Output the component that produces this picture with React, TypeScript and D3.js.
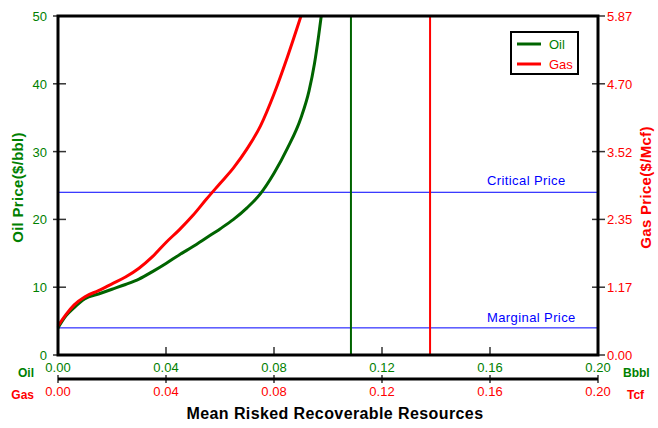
import React, { useEffect, useRef } from 'react';
import * as d3 from 'd3';

// resource (Bbbl / Tcf) vs price curves
const oilX = [0, 0.003, 0.006, 0.01, 0.015, 0.02, 0.025, 0.03, 0.035, 0.04, 0.045, 0.05, 0.055, 0.06, 0.065, 0.07, 0.075, 0.08, 0.085, 0.09, 0.093, 0.095, 0.0965, 0.0975];
const oilPrice = [4.0, 5.8, 7.0, 8.3, 9.0, 9.7, 10.4, 11.2, 12.3, 13.5, 14.8, 16.0, 17.3, 18.6, 20.0, 21.7, 23.8, 26.8, 30.5, 35.0, 39.0, 43.0, 47.0, 50.0];
const gasX = [0, 0.003, 0.006, 0.01, 0.015, 0.02, 0.025, 0.03, 0.035, 0.04, 0.045, 0.05, 0.055, 0.06, 0.065, 0.07, 0.075, 0.08, 0.085, 0.09];
const gasPrice = [4.3, 6.0, 7.4, 8.6, 9.5, 10.5, 11.5, 12.8, 14.5, 16.6, 18.5, 20.6, 23.0, 25.3, 27.6, 30.4, 33.8, 38.5, 44.0, 50.0];

const xTicks = [0, 0.04, 0.08, 0.12, 0.16, 0.2];
const oilTicks = [0, 10, 20, 30, 40, 50];
const gasTickLabels = ['0.00', '1.17', '2.35', '3.52', '4.70', '5.87'];

const oilMean = 0.1085;
const gasMean = 0.1378;
const criticalPrice = 24;
const marginalPrice = 4;

const GREEN = '#008000';
const DKGREEN = '#006400';
const RED = '#ff0000';
const BLUE = '#0000ff';
const FONT = 'Liberation Sans, Arial, sans-serif';

export default function App() {
  const svgRef = useRef<SVGSVGElement>(null);

  useEffect(() => {
    if (!svgRef.current) return;
    const width = 658;
    const height = 428;
    const left = 58, right = 598, top = 16, bottom = 355;

    const svg = d3.select(svgRef.current)
      .attr('width', width)
      .attr('height', height)
      .attr('viewBox', `0 0 ${width} ${height}`);
    svg.selectAll('*').remove();

    svg.append('rect').attr('width', width).attr('height', height).attr('fill', 'white');

    const x = d3.scaleLinear().domain([0, 0.2]).range([left, right]);
    const y = d3.scaleLinear().domain([0, 50]).range([bottom, top]);

    // horizontal price lines
    [criticalPrice, marginalPrice].forEach(p => {
      svg.append('line')
        .attr('x1', left).attr('x2', right)
        .attr('y1', y(p)).attr('y2', y(p))
        .attr('stroke', BLUE).attr('stroke-width', 1);
    });
    svg.append('text')
      .attr('x', 487).attr('y', y(criticalPrice) - 7)
      .attr('fill', BLUE).attr('font-size', '13px').attr('letter-spacing', '0.4px').attr('font-family', FONT)
      .text('Critical Price');
    svg.append('text')
      .attr('x', 487).attr('y', y(marginalPrice) - 6)
      .attr('fill', BLUE).attr('font-size', '13px').attr('letter-spacing', '0.4px').attr('font-family', FONT)
      .text('Marginal Price');

    // mean lines
    svg.append('line')
      .attr('x1', x(oilMean)).attr('x2', x(oilMean))
      .attr('y1', top).attr('y2', bottom)
      .attr('stroke', DKGREEN).attr('stroke-width', 2);
    svg.append('line')
      .attr('x1', x(gasMean)).attr('x2', x(gasMean))
      .attr('y1', top).attr('y2', bottom)
      .attr('stroke', RED).attr('stroke-width', 2);

    // curves
    const line = d3.line<[number, number]>()
      .x(d => x(d[0]))
      .y(d => y(d[1]))
      .curve(d3.curveMonotoneX);

    svg.append('path')
      .datum(oilX.map((v, i) => [v, oilPrice[i]] as [number, number]))
      .attr('d', line)
      .attr('fill', 'none')
      .attr('stroke', DKGREEN)
      .attr('stroke-width', 3);
    svg.append('path')
      .datum(gasX.map((v, i) => [v, gasPrice[i]] as [number, number]))
      .attr('d', line)
      .attr('fill', 'none')
      .attr('stroke', RED)
      .attr('stroke-width', 3);

    // ticks
    const tickColor = '#333';
    oilTicks.forEach((t, i) => {
      svg.append('line')
        .attr('x1', left - 5).attr('x2', left + 8)
        .attr('y1', y(t)).attr('y2', y(t))
        .attr('stroke', tickColor).attr('stroke-width', 1.5);
      svg.append('line')
        .attr('x1', right - 6).attr('x2', right + 7)
        .attr('y1', y(t)).attr('y2', y(t))
        .attr('stroke', tickColor).attr('stroke-width', 1.5);
      svg.append('text')
        .attr('x', left - 11).attr('y', y(t) + 5)
        .attr('text-anchor', 'end')
        .attr('fill', GREEN).attr('font-size', '13px').attr('font-family', FONT)
        .text(String(t));
      svg.append('text')
        .attr('x', right + 9).attr('y', y(t) + 5)
        .attr('fill', RED).attr('font-size', '13px').attr('font-family', FONT)
        .text(gasTickLabels[i]);
    });

    xTicks.forEach(t => {
      svg.append('line')
        .attr('x1', x(t)).attr('x2', x(t))
        .attr('y1', bottom - 8).attr('y2', bottom)
        .attr('stroke', tickColor).attr('stroke-width', 1.5);
      svg.append('line')
        .attr('x1', x(t)).attr('x2', x(t))
        .attr('y1', 375).attr('y2', 383)
        .attr('stroke', tickColor).attr('stroke-width', 1.5);
      svg.append('text')
        .attr('x', x(t)).attr('y', 372)
        .attr('text-anchor', 'middle')
        .attr('fill', GREEN).attr('font-size', '13px').attr('font-family', FONT)
        .text(t.toFixed(2));
      svg.append('text')
        .attr('x', x(t)).attr('y', 396)
        .attr('text-anchor', 'middle')
        .attr('fill', RED).attr('font-size', '13px').attr('font-family', FONT)
        .text(t.toFixed(2));
    });

    // frame
    svg.append('rect')
      .attr('x', left).attr('y', top)
      .attr('width', right - left).attr('height', bottom - top)
      .attr('fill', 'none').attr('stroke', 'black').attr('stroke-width', 3);
    svg.append('line')
      .attr('x1', left).attr('x2', right)
      .attr('y1', 379).attr('y2', 379)
      .attr('stroke', 'black').attr('stroke-width', 3);

    // unit labels
    const unit = (tx: string, xx: number, yy: number, col: string, anchor: string) =>
      svg.append('text')
        .attr('x', xx).attr('y', yy)
        .attr('text-anchor', anchor)
        .attr('fill', col).attr('font-size', '12px').attr('font-weight', 'bold').attr('font-family', FONT)
        .text(tx);
    unit('Oil', 34, 377, GREEN, 'end');
    unit('Gas', 34, 399, RED, 'end');
    unit('Bbbl', 623, 377, GREEN, 'start');
    unit('Tcf', 627, 399, RED, 'start');

    // axis titles
    svg.append('text')
      .attr('transform', `translate(23,${(top + bottom) / 2 + 2}) rotate(-90)`)
      .attr('text-anchor', 'middle')
      .attr('fill', GREEN).attr('font-size', '15px').attr('font-weight', 'bold').attr('letter-spacing', '0.3px').attr('font-family', FONT)
      .text('Oil Price($/bbl)');
    svg.append('text')
      .attr('transform', `translate(651,${(top + bottom) / 2 + 2}) rotate(-90)`)
      .attr('text-anchor', 'middle')
      .attr('fill', RED).attr('font-size', '15px').attr('font-weight', 'bold').attr('letter-spacing', '0.3px').attr('font-family', FONT)
      .text('Gas Price($/Mcf)');
    svg.append('text')
      .attr('x', 335).attr('y', 419)
      .attr('text-anchor', 'middle')
      .attr('fill', 'black').attr('font-size', '16px').attr('font-weight', 'bold').attr('letter-spacing', '0.4px').attr('font-family', FONT)
      .text('Mean Risked Recoverable Resources');

    // legend
    svg.append('rect')
      .attr('x', 511).attr('y', 32).attr('width', 67).attr('height', 42)
      .attr('fill', 'white').attr('stroke', 'black').attr('stroke-width', 2);
    [['Oil', DKGREEN, GREEN, 44], ['Gas', RED, RED, 64]].forEach(([name, lc, tc, ly]) => {
      svg.append('line')
        .attr('x1', 517).attr('x2', 541)
        .attr('y1', ly as number).attr('y2', ly as number)
        .attr('stroke', lc as string).attr('stroke-width', 3);
      svg.append('text')
        .attr('x', 549).attr('y', (ly as number) + 5)
        .attr('fill', tc as string).attr('font-size', '13px').attr('font-family', FONT)
        .text(name as string);
    });
  }, []);

  return <svg ref={svgRef} style={{ position: 'absolute', left: 0, top: 0 }} />;
}
